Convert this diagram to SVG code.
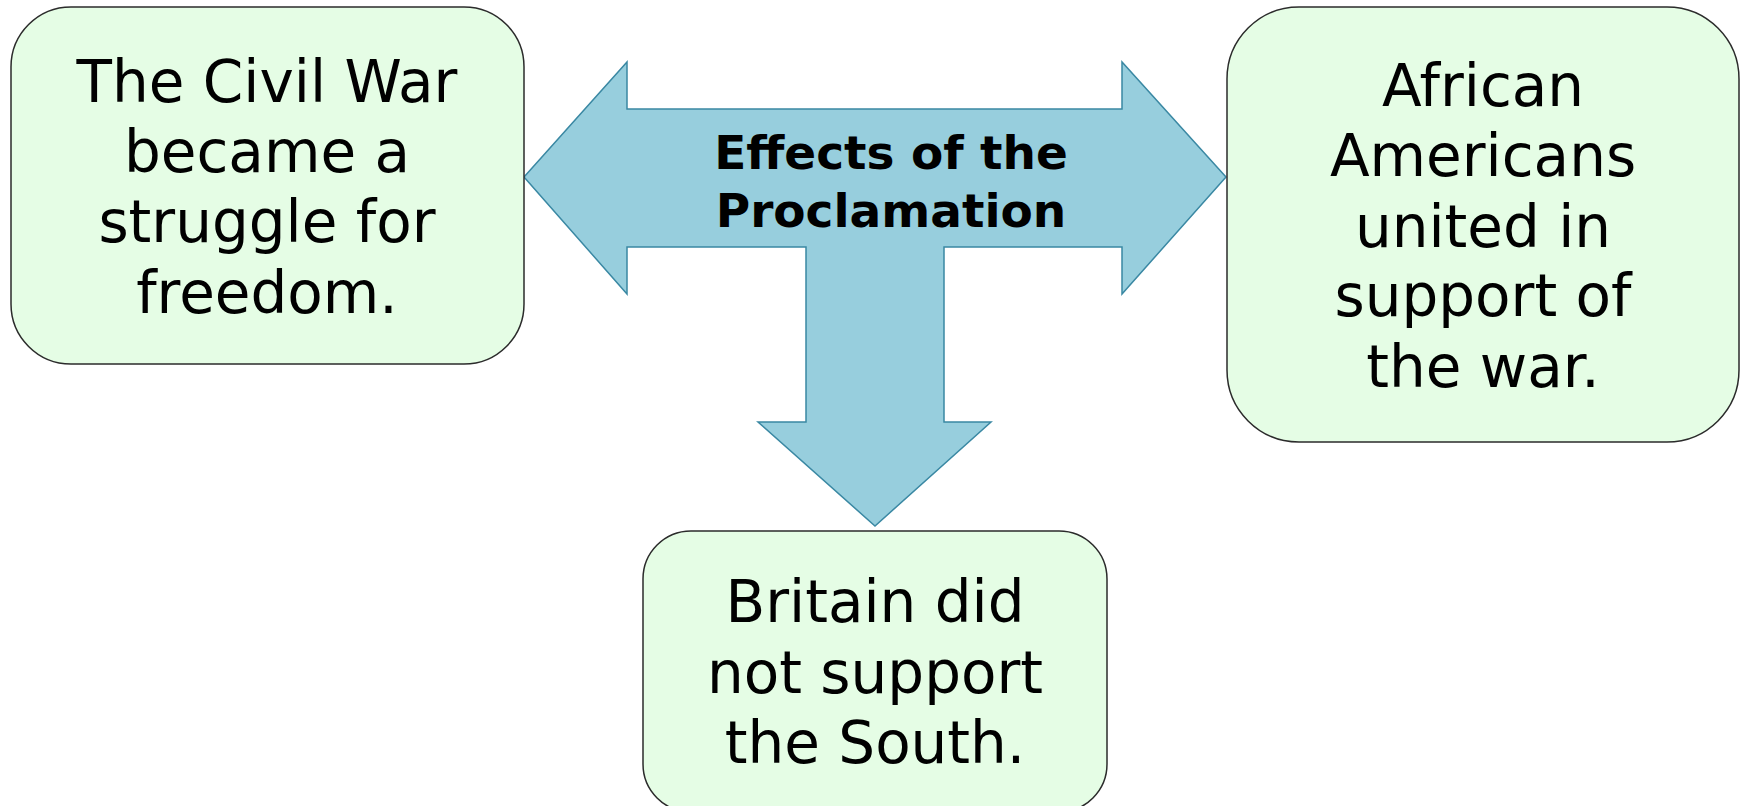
<svg xmlns="http://www.w3.org/2000/svg" width="1747" height="806" viewBox="0 0 1747 806">
<style>
.box{fill:#E5FDE5;stroke:#2b2b2b;stroke-width:1.5}
.t{font-family:"DejaVu Sans",Verdana,sans-serif;font-size:58px;fill:#000;text-anchor:middle}
.title{font-family:"DejaVu Sans",Verdana,sans-serif;font-size:47px;font-weight:bold;fill:#000;text-anchor:middle}
.arrow{fill:#97CEDD;stroke:#3A88A3;stroke-width:1.5;stroke-linejoin:miter}
</style>
<rect width="1747" height="806" fill="#ffffff"/>
<g id="connectors">
<path class="arrow" d="M524,177 L627,62 L627,109 L1122,109 L1122,62 L1226,177 L1122,294 L1122,247 L944,247 L944,422 L991,422 L875,526 L758,422 L806,422 L806,247 L627,247 L627,294 Z"/>
<text class="title" x="891" y="169">Effects of the</text>
<text class="title" x="891" y="227">Proclamation</text>
</g>
<g id="node-civil-war">
<rect class="box" x="11" y="7" width="513" height="357" rx="60" ry="60"/>
<text class="t" x="267" y="102">The Civil War</text>
<text class="t" x="267" y="172">became a</text>
<text class="t" x="267" y="242">struggle for</text>
<text class="t" x="267" y="313">freedom.</text>
</g>
<g id="node-african-americans">
<rect class="box" x="1227" y="7" width="512" height="435" rx="72" ry="72"/>
<text class="t" x="1483" y="106">African</text>
<text class="t" x="1483" y="176">Americans</text>
<text class="t" x="1483" y="247">united in</text>
<text class="t" x="1483" y="316">support of</text>
<text class="t" x="1483" y="387">the war.</text>
</g>
<g id="node-britain">
<rect class="box" x="643" y="531" width="464" height="281" rx="48" ry="48"/>
<text class="t" x="875" y="622">Britain did</text>
<text class="t" x="875" y="693">not support</text>
<text class="t" x="875" y="763">the South.</text>
</g>
</svg>
